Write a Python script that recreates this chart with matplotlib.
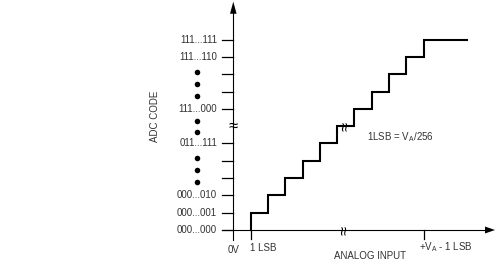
import numpy as np
import matplotlib
matplotlib.use('Agg')
import matplotlib.pyplot as plt

plt.rcParams['font.family'] = ['Liberation Sans', 'DejaVu Sans']
plt.rcParams['mathtext.fontset'] = 'custom'
plt.rcParams['mathtext.rm'] = 'Liberation Sans'
plt.rcParams['mathtext.it'] = 'Liberation Sans'

# --- data ---
code_levels = [0, 1, 2, 3, 4, 5, 7, 8, 9, 10, 11]
code_labels = ['000...000', '000...001', '000...010', '', '', '011...111',
               '111...000', '', '', '111...110', '111...111']
dot_levels = [9.12, 8.46, 7.76, 6.32, 5.64, 4.16, 3.47, 2.79]
step_x = [1, 2, 3, 4, 5, 6, 7, 8, 9, 10, 11]
step_level = [1, 2, 3, 4, 5, 6, 7, 8, 9, 10, 11]
step_end = 13.5
x_ticks = [1, 11]
x_labels = ['1 LSB', '+V$_\\mathrm{A}$ - 1 LSB']
break_level = 6.0
break_x = 6.45

# pixel -> data mapping (origin at px 233.3, 230; 17.3 px per step)
ox, oy, u = 233.3, 230.0, 17.3
W, H = 495, 271

fig = plt.figure(figsize=(W / 100, H / 100), dpi=100)
ax = fig.add_axes([0, 0, 1, 1])
ax.set_xlim(-ox / u, (W - ox) / u)
ax.set_ylim(-(H - oy) / u, oy / u)
ax.axis('off')

txt = '#333333'
fs = 7

# axes lines + arrowheads
ax.plot([0, 0], [-0.58, 12.6], color='k', lw=0.8)
ax.plot([-0.67, 14.6], [0, 0], color='k', lw=0.8)
ax.fill([0, -0.19, 0.19], [13.2, 12.5, 12.5], color='k', lw=0)
ax.fill([15.13, 14.55, 14.55], [0, 0.2, -0.2], color='k', lw=0)

# y ticks and labels
for lv, lab in zip(code_levels, code_labels):
    ax.plot([-0.67, 0], [lv, lv], color='k', lw=0.9)
    if lab:
        ax.text(-0.93, lv, lab, ha='right', va='center', fontsize=fs, color=txt)
ax.scatter(np.full(len(dot_levels), -2.08), dot_levels, s=16, color='k', lw=0)

# x ticks and labels
for xv in x_ticks:
    ax.plot([xv, xv], [0, -0.5], color='k', lw=0.9)
ax.text(0.97, -1.05, x_labels[0], ha='left', va='center', fontsize=fs, color=txt)
ax.text(10.72, -1.0, x_labels[1], ha='left', va='center', fontsize=fs, color=txt)
ax.text(0.01, -1.17, '0V', ha='center', va='center', fontsize=fs, color=txt)

# staircase transfer function
xs, ys = [1], [0]
prev = 0
for x, lv in zip(step_x, step_level):
    xs += [x, x]
    ys += [prev, lv]
    prev = lv
xs.append(step_end)
ys.append(prev)
ax.plot(xs, ys, color='k', lw=1.5, solid_joinstyle='miter')

# break symbols
ax.text(0, break_level, '≈', ha='center', va='center', fontsize=12, color='k')
ax.text(break_x, 0, '≈', ha='center', va='center', fontsize=12, color='k', rotation=90)
ax.text(6.5, break_level, '≈', ha='center', va='center', fontsize=12, color='k', rotation=90)

# titles / annotations
ax.text(-4.53, 6.55, 'ADC CODE', rotation=90, ha='center', va='center', fontsize=fs, color=txt)
ax.text(7.93, -1.5, 'ANALOG INPUT', ha='center', va='center', fontsize=fs, color=txt)
ax.text(7.71, 5.36, '1LSB = V$_\\mathrm{A}$/256', ha='left', va='center', fontsize=fs, color=txt)

fig.savefig('out.png', dpi=100)
